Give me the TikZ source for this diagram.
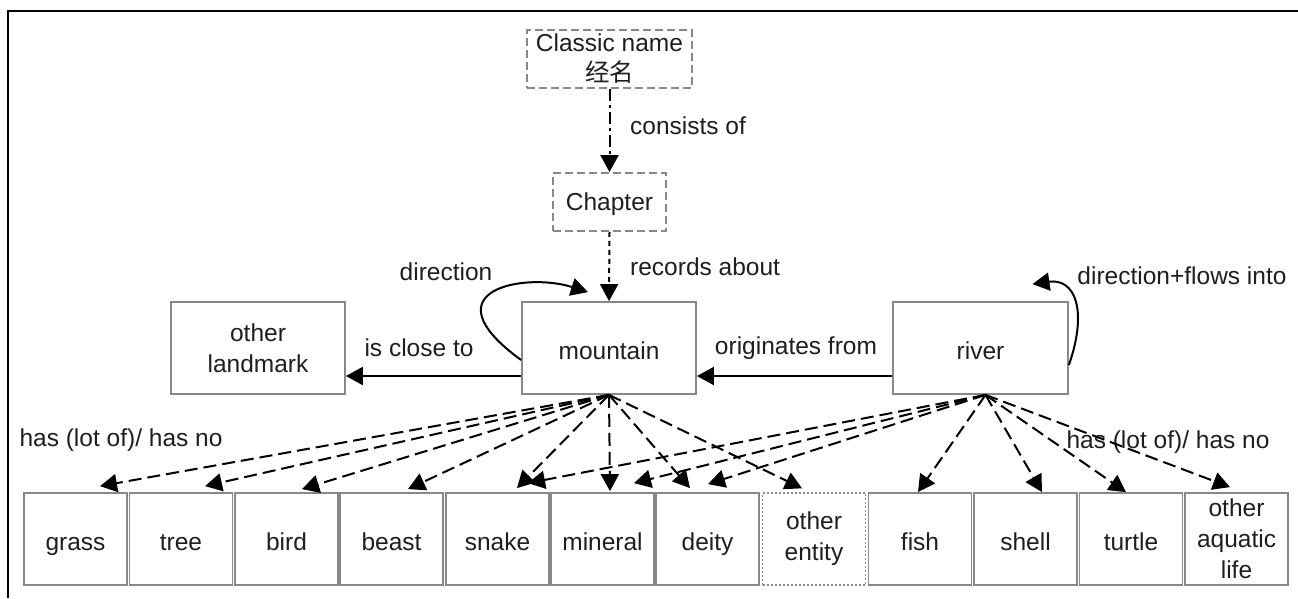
\documentclass[tikz,border=0pt]{standalone}
\usepackage{fontspec}
\setmainfont{Liberation Sans}
\newfontfamily\cjk{Noto Sans CJK SC}
\usetikzlibrary{arrows.meta,calc}
\definecolor{boxgray}{HTML}{888888}
\definecolor{txtc}{HTML}{1E1E1E}
\begin{document}
\begin{tikzpicture}[x=1pt,y=-1pt,
  txt/.style={font=\fontsize{24.5}{31}\selectfont, text=txtc},
  box/.style={txt, draw=boxgray, line width=1.8pt, inner sep=0pt, align=center},
  one/.style={text height=22pt, text depth=0pt},
  small/.style={box, minimum width=103pt, minimum height=92pt},
  big/.style={box, minimum width=174pt, minimum height=92pt},
  arr/.style={-{Triangle[length=17pt,width=18pt]}, line width=2pt, black},
  dsh/.style={dash pattern=on 13pt off 6pt},
  lbl/.style={txt, inner sep=0pt}]
\useasboundingbox (0,0) rectangle (1298,598);
\draw[line width=1.3pt] (8,598) -- (8,11) -- (1298,11);

% top nodes
\node[box, dash pattern=on 8pt off 4pt, minimum width=165pt, minimum height=58pt] (classic) at (609.5,59)
  {Classic name\\[-1pt]{\cjk 经名}};
\node[box, text height=17pt, text depth=1pt, dash pattern=on 8pt off 4pt, minimum width=113pt, minimum height=58pt] (chapter) at (609.5,202) {Chapter};

% middle nodes
\node[big] (landmark) at (258,348) {other\\landmark};
\node[big, one] (mountain) at (609,348) {mountain};
\node[big, one, minimum width=175pt] (river) at (980.5,348) {river};

% bottom nodes
\node[small, one] (grass)   at (75.5,539)  {grass};
\node[small, one] (tree)    at (181,539)   {tree};
\node[small, one] (bird)    at (286.5,539) {bird};
\node[small, one] (beast)   at (391.5,539) {beast};
\node[small, one] (snake)   at (497.5,539) {snake};
\node[small, one] (mineral) at (602.5,539) {mineral};
\node[small, one] (deity)   at (707.5,539) {deity};
\node[small, dash pattern=on 2pt off 2pt, line width=1.4pt] (entity) at (814,539) {other\\entity};
\node[small, one] (fish)    at (920,539)   {fish};
\node[small, one] (shell)   at (1025.5,539) {shell};
\node[small, one] (turtle)  at (1131,539)  {turtle};
\node[small] (aquatic) at (1236.5,539) {other\\aquatic\\life};

% labels
\node[lbl, anchor=west] (l1) at (630,126) {consists of};
\node[lbl, anchor=west] (l2) at (630,267) {records about};
\node[lbl] (l3) at (446,272) {direction};
\node[lbl] (l4) at (1182,276) {direction+flows into};
\node[lbl] (l5) at (419,348) {is close to};
\node[lbl] (l6) at (796,348) {originates from};
\node[lbl] (l7) at (121,440) {has (lot of)/ has no};
\node[lbl] (l8) at (1168,442) {has (lot of)/ has no};

% connectors
\draw[arr, dash pattern=on 12pt off 4pt on 3pt off 4pt] (classic.south) -- (chapter.north);
\draw[arr, dash pattern=on 5pt off 4pt] (chapter.south) -- (mountain.north);
\draw[arr] ([shift={(0,28)}]mountain.west) -- ([shift={(0,28)}]landmark.east);
\draw[arr] ([shift={(0,28)}]river.west) -- ([shift={(0,28)}]mountain.east);
\draw[arr] ([shift={(0,12)}]mountain.west) .. controls (425,290) and (525,272) .. ([shift={(-21,-9)}]mountain.north);
\draw[arr] ([shift={(0,17)}]river.east) .. controls (1088,310) and (1075,278) .. ([shift={(52,-17)}]river.north);

\foreach \t/\dx/\dy in {grass/24.5/-6, tree/24/-6, bird/15.5/-3, beast/16.5/-3, snake/19.5/-4, mineral/7.5/-1, deity/-17.5/-4, entity/-12/-4}
  \draw[arr,dsh] (mountain.south) -- ([shift={(\dx,\dy)}]\t.north);
\foreach \t/\dx/\dy in {snake/30.5/-9, mineral/31.5/-9, deity/0.5/-8, fish/-2/0, shell/16.5/0, turtle/-5/0, aquatic/-6.5/-5}
  \draw[arr,dsh] ([shift={(5,0)}]river.south) -- ([shift={(\dx,\dy)}]\t.north);
\end{tikzpicture}
\end{document}
